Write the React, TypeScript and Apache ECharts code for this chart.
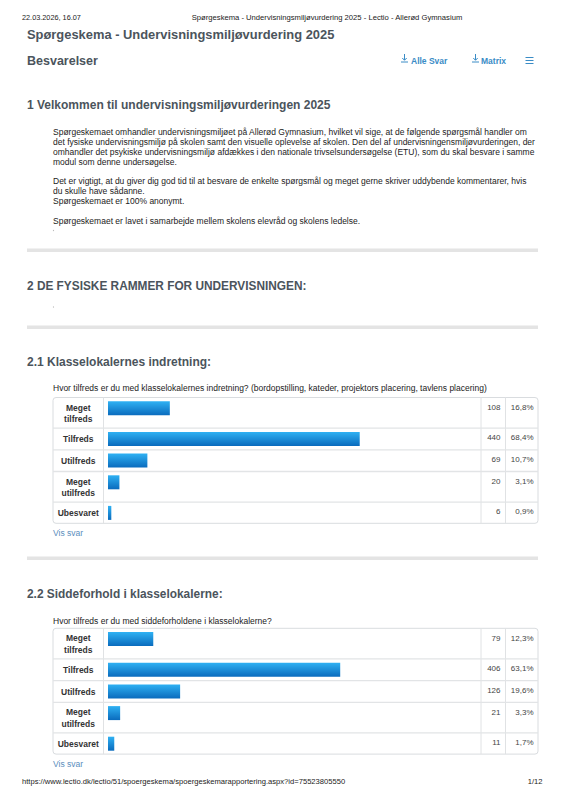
import React, { useEffect, useRef } from "react";
import * as echarts from "echarts";

// ---- data ----
const categories = ["Meget tilfreds", "Tilfreds", "Utilfreds", "Meget utilfreds", "Ubesvaret"];
const q1Counts = [108, 440, 69, 20, 6];
const q1Percents = [16.8, 68.4, 10.7, 3.1, 0.9];
const q2Counts = [79, 406, 126, 21, 11];
const q2Percents = [12.3, 63.1, 19.6, 3.3, 1.7];

const q1Question =
  "Hvor tilfreds er du med klasselokalernes indretning? (bordopstilling, kateder, projektors placering, tavlens placering)";
const q2Question = "Hvor tilfreds er du med siddeforholdene i klasselokalerne?";

const introBlocks = [
  [
    "Spørgeskemaet omhandler undervisningsmiljøet på Allerød Gymnasium, hvilket vil sige, at de følgende spørgsmål handler om",
    "det fysiske undervisningsmiljø på skolen samt den visuelle oplevelse af skolen. Den del af undervisningensmiljøvurderingen, der",
    "omhandler det psykiske undervisningsmiljø afdækkes i den nationale trivselsundersøgelse (ETU), som du skal besvare i samme",
    "modul som denne undersøgelse.",
  ],
  [
    "Det er vigtigt, at du giver dig god tid til at besvare de enkelte spørgsmål og meget gerne skriver uddybende kommentarer, hvis",
    "du skulle have sådanne.",
    "Spørgeskemaet er 100% anonymt.",
  ],
  ["Spørgeskemaet er lavet i samarbejde mellem skolens elevråd og skolens ledelse."],
];

// ---- layout ----
const FONT = '"Liberation Sans", Arial, Helvetica, sans-serif';
const HEAD = "#4b545c";
const LINK = "#3a8cc6";
const tableLeft = 53;
const tableRight = 538;
const labelColRight = 103.5;
const countColLeft = 481;
const pctColLeft = 505.5;
const barLeft = 108;
const barAxisWidth = 368;
const rowHeights = [30.6, 21.7, 21.7, 30.6, 21.2];
const tableTops = [397.5, 628.3];
const BODY = 8.5;

function fmtPct(p: number) {
  return p.toFixed(1).replace(".", ",") + "%";
}

function txt(x: number, y: number, text: string, size: number, opts: any = {}) {
  return {
    type: "text",
    x,
    y,
    silent: true,
    style: {
      text,
      fontSize: size,
      fontFamily: FONT,
      fontWeight: opts.bold ? "bold" : "normal",
      fill: opts.color || "#222",
      align: opts.align || "left",
      verticalAlign: "middle",
      lineHeight: opts.lineHeight,
    },
  };
}

function sep(y: number) {
  return {
    type: "rect",
    silent: true,
    shape: { x: 27, y, width: 511, height: 3.5 },
    style: { fill: "#e4e4e4" },
  };
}

function hline(x1: number, x2: number, y: number, color: string, w = 1) {
  return {
    type: "line",
    silent: true,
    shape: { x1, y1: y, x2, y2: y },
    style: { stroke: color, lineWidth: w },
  };
}

function vline(x: number, y1: number, y2: number, color: string, w = 1) {
  return {
    type: "line",
    silent: true,
    shape: { x1: x, y1, x2: x, y2 },
    style: { stroke: color, lineWidth: w },
  };
}

function downloadIcon(x: number, y: number) {
  return [
    vline(x + 3.5, y - 4.5, y + 1.5, LINK, 1),
    {
      type: "polyline",
      silent: true,
      shape: { points: [[x + 1.3, y - 0.5], [x + 3.5, y + 1.8], [x + 5.7, y - 0.5]] },
      style: { stroke: LINK, lineWidth: 1, fill: "none" },
    },
    hline(x, x + 7, y + 3.5, LINK, 1),
  ];
}

export default function App() {
  const ref = useRef<HTMLDivElement>(null);

  useEffect(() => {
    if (!ref.current) return;
    const chart = echarts.init(ref.current, undefined, { renderer: "svg" });

    const grids: any[] = [];
    const xAxes: any[] = [];
    const yAxes: any[] = [];
    const series: any[] = [];
    const graphics: any[] = [];

    // header
    graphics.push(txt(22, 17.5, "22.03.2026, 16.07", 7.3, { color: "#222" }));
    graphics.push(
      txt(327, 17.5, "Spørgeskema - Undervisningsmiljøvurdering 2025 - Lectio - Allerød Gymnasium", 7.65, {
        color: "#222",
        align: "center",
      })
    );
    graphics.push(txt(27, 34.5, "Spørgeskema - Undervisningsmiljøvurdering 2025", 12.9, { bold: true, color: HEAD }));
    graphics.push(txt(27, 60.5, "Besvarelser", 12.5, { bold: true, color: HEAD }));
    graphics.push(...downloadIcon(401, 58.5));
    graphics.push(txt(411, 60.5, "Alle Svar", 8.5, { bold: true, color: LINK }));
    graphics.push(...downloadIcon(472, 58.5));
    graphics.push(txt(481, 60.5, "Matrix", 8.5, { bold: true, color: LINK }));
    [57.5, 60.5, 63.5].forEach((y) => graphics.push(hline(525.5, 533.5, y, LINK, 1)));

    // section 1
    graphics.push(txt(27, 104.5, "1 Velkommen til undervisningsmiljøvurderingen 2025", 12, { bold: true, color: HEAD }));
    const blockStarts = [131.5, 180.5, 220.5];
    introBlocks.forEach((lines, b) => {
      lines.forEach((line, i) => {
        graphics.push(txt(53, blockStarts[b] + i * 10.2, line, BODY, { color: "#222" }));
      });
    });
    graphics.push({ type: "circle", silent: true, shape: { cx: 53.5, cy: 230.5, r: 0.6 }, style: { fill: "#bbb" } });
    graphics.push(sep(248.5));

    // section 2
    graphics.push(txt(27, 285.5, "2 DE FYSISKE RAMMER FOR UNDERVISNINGEN:", 11.85, { bold: true, color: HEAD }));
    graphics.push({ type: "circle", silent: true, shape: { cx: 53.5, cy: 307, r: 0.6 }, style: { fill: "#bbb" } });
    graphics.push(sep(325.5));
    graphics.push(txt(27, 362, "2.1 Klasselokalernes indretning:", 12, { bold: true, color: HEAD }));
    graphics.push(txt(53, 387.5, q1Question, BODY, { color: "#222" }));

    graphics.push(sep(556.5));
    graphics.push(txt(27, 593.5, "2.2 Siddeforhold i klasselokalerne:", 11.9, { bold: true, color: HEAD }));
    graphics.push(txt(53, 620.5, q2Question, BODY, { color: "#222" }));

    const tableData = [
      { counts: q1Counts, percents: q1Percents },
      { counts: q2Counts, percents: q2Percents },
    ];

    const barGradient = new echarts.graphic.LinearGradient(0, 0, 0, 1, [
      { offset: 0, color: "#2fb1f3" },
      { offset: 1, color: "#0a6bbd" },
    ]);

    tableData.forEach((t, ti) => {
      const top = tableTops[ti];
      const total = rowHeights.reduce((a, b) => a + b, 0);
      const bottom = top + total;
      // frame
      graphics.push({
        type: "rect",
        silent: true,
        shape: { x: tableLeft, y: top, width: tableRight - tableLeft, height: total, r: 3 },
        style: { fill: "none", stroke: "#d9dcdf", lineWidth: 1 },
      });
      graphics.push(vline(labelColRight, top, bottom, "#e0e2e4"));
      graphics.push(vline(countColLeft, top, bottom, "#e0e2e4"));
      graphics.push(vline(pctColLeft, top, bottom, "#e0e2e4"));

      let rowTop = top;
      categories.forEach((cat, i) => {
        const h = rowHeights[i];
        if (i > 0) graphics.push(hline(tableLeft, tableRight, rowTop, "#e2e4e6", 1.3));
        // category label
        graphics.push({
          type: "text",
          x: (tableLeft + labelColRight) / 2,
          y: rowTop + h / 2 + 0.5,
          silent: true,
          style: {
            text: cat.replace(" ", "\n"),
            fontSize: 8.5,
            fontFamily: FONT,
            fontWeight: "bold",
            fill: "#333",
            align: "center",
            verticalAlign: "middle",
            lineHeight: 11.5,
          },
        });
        // count & percent
        graphics.push(txt(500.5, rowTop + 9.8, String(t.counts[i]), 8, { color: "#444", align: "right" }));
        graphics.push(txt(533.5, rowTop + 9.8, fmtPct(t.percents[i]), 8, { color: "#444", align: "right" }));

        // bar grid for this row
        const gi = grids.length;
        grids.push({ left: barLeft, top: rowTop + 3.8, width: barAxisWidth, height: 14, containLabel: false });
        xAxes.push({ type: "value", gridIndex: gi, min: 0, max: 100, show: false });
        yAxes.push({ type: "category", gridIndex: gi, data: [cat], show: false });
        series.push({
          type: "bar",
          xAxisIndex: gi,
          yAxisIndex: gi,
          data: [t.percents[i]],
          barWidth: 14,
          silent: true,
          itemStyle: { color: barGradient },
        });
        rowTop += h;
      });

      graphics.push(txt(53, bottom + 9.5, "Vis svar", 8.5, { color: "#5a8dbd" }));
    });

    // footer
    graphics.push(
      txt(22, 781.5, "https://www.lectio.dk/lectio/51/spoergeskema/spoergeskemarapportering.aspx?id=75523805550", 7.6, {
        color: "#222",
      })
    );
    graphics.push(txt(542.5, 781.5, "1/12", 7.6, { color: "#222", align: "right" }));

    chart.setOption({
      animation: false,
      backgroundColor: "#ffffff",
      grid: grids,
      xAxis: xAxes,
      yAxis: yAxes,
      series,
      graphic: graphics,
    });

    return () => chart.dispose();
  }, []);

  return (
    <div
      ref={ref}
      style={{ position: "absolute", left: 0, top: 0, width: 565, height: 800, background: "#fff" }}
    />
  );
}
